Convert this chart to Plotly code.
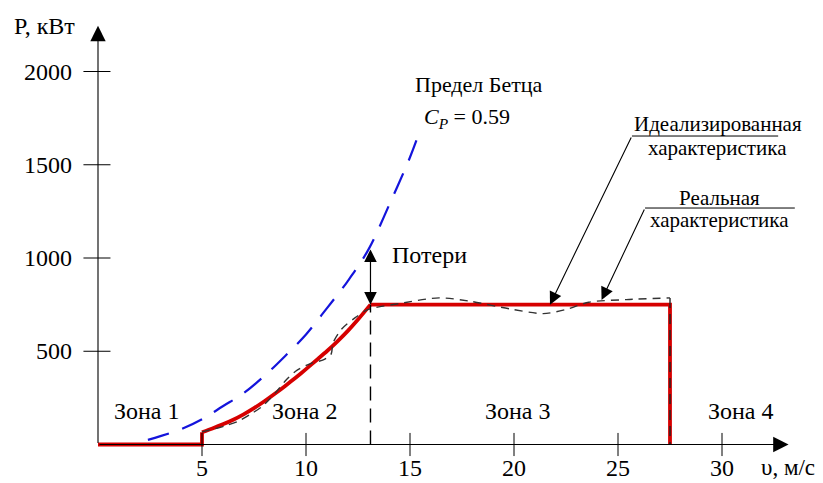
import plotly.graph_objects as go

# ---------------- data ----------------
x_ticks = [5, 10, 15, 20, 25, 30]
y_ticks = [500, 1000, 1500, 2000]

# Betz limit curve (Cp = 0.59)
betz_v = [2.4, 3.0, 4.0, 5.0, 6.0, 7.0, 8.0, 9.0, 10.0, 11.0, 12.0, 13.0, 14.0, 15.0, 15.5]
betz_p = [25, 45, 82, 135, 205, 275, 368, 475, 590, 730, 875, 1045, 1285, 1540, 1690]

# idealised characteristic
ideal_v = [0, 5.0, 5.0, 5.5, 6.0, 6.5, 7.0, 7.5, 8.0, 8.5, 9.0, 9.5, 10.0, 10.5, 11.0, 11.5, 12.0, 12.5, 13.1, 27.5, 27.5]
ideal_p = [0, 0, 66, 86, 108, 133, 162, 195, 232, 272, 314, 358, 404, 452, 500, 552, 608, 670, 750, 750, 0]

# real characteristic
real_v = [5.0, 5.6, 6.2, 6.75, 7.3, 7.9, 8.6, 9.0, 9.5, 10.3, 10.8, 11.2, 11.3, 11.7, 12.35, 13.0,
          14.5, 16.4, 17.9, 19.8, 21.4, 22.5, 23.6, 25.4, 27.5, 27.5]
real_p = [68, 84, 103, 125, 160, 205, 286, 340, 393, 438, 452, 483, 545, 617, 679, 724,
          756, 786, 768, 727, 702, 724, 763, 777, 786, 0]

rated_v = 13.1
rated_p = 750
betz_at_rated = 1054

zone_labels = ["Зона 1", "Зона 2", "Зона 3", "Зона 4"]
zone_v = [2.35, 9.95, 20.2, 30.9]
zone_p = 180

FONT = "Liberation Serif"
FS = 24

fig = go.Figure()

fig.add_trace(go.Scatter(x=betz_v, y=betz_p, mode="lines", line=dict(color="#1414dc", width=2.2, dash="22px,14px"),
                         line_shape="spline", hoverinfo="skip"))
# idealised: flat + step (linear), rising curve (spline), plateau + cut-out (linear)
fig.add_trace(go.Scatter(x=ideal_v[:3], y=ideal_p[:3], mode="lines", line=dict(color="#d60000", width=3.8),
                         hoverinfo="skip"))
fig.add_trace(go.Scatter(x=ideal_v[2:19], y=ideal_p[2:19], mode="lines", line=dict(color="#d60000", width=3.8),
                         line_shape="spline", line_smoothing=0.6, hoverinfo="skip"))
fig.add_trace(go.Scatter(x=ideal_v[18:], y=ideal_p[18:], mode="lines", line=dict(color="#d60000", width=3.8),
                         hoverinfo="skip"))
# real: curve (spline) and cut-out drop (linear)
fig.add_trace(go.Scatter(x=real_v[:-1], y=real_p[:-1], mode="lines", line=dict(color="#333333", width=1.4, dash="8px,6px"),
                         line_shape="spline", line_smoothing=0.8, hoverinfo="skip"))
fig.add_trace(go.Scatter(x=real_v[-2:], y=real_p[-2:], mode="lines", line=dict(color="#222222", width=1.4, dash="10px,6px"),
                         hoverinfo="skip"))
# vertical dashed line at rated speed
fig.add_trace(go.Scatter(x=[rated_v, rated_v], y=[0, rated_p], mode="lines",
                         line=dict(color="black", width=1.4, dash="14px,8px"), hoverinfo="skip"))

ann = []
shapes = []

# axes with arrows
ann.append(dict(x=33.2, y=0, ax=0, ay=0, axref="x", ayref="y", xref="x", yref="y", text="", showarrow=True,
                arrowhead=2, arrowsize=2.8, arrowwidth=1.1, arrowcolor="black", standoff=0))
ann.append(dict(x=0, y=2245, ax=0, ay=0, axref="x", ayref="y", xref="x", yref="y", text="", showarrow=True,
                arrowhead=2, arrowsize=2.8, arrowwidth=1.1, arrowcolor="black", standoff=0))

# ticks and labels
for t in x_ticks:
    shapes.append(dict(type="line", xref="x", yref="y", x0=t, x1=t, y0=-62, y1=62, line=dict(color="black", width=1)))
    ann.append(dict(x=t, y=-125, xref="x", yref="y", text=str(t), showarrow=False,
                    font=dict(family=FONT, size=FS, color="black")))
for t in y_ticks:
    shapes.append(dict(type="line", xref="x", yref="y", x0=-0.7, x1=0.6, y0=t, y1=t, line=dict(color="black", width=1)))
    ann.append(dict(x=-1.15, y=t, xref="x", yref="y", text=str(t), showarrow=False, xanchor="right",
                    font=dict(family=FONT, size=FS, color="black")))

ann.append(dict(x=-2.55, y=2245, xref="x", yref="y", text="P, кВт", showarrow=False,
                font=dict(family=FONT, size=FS, color="black")))
ann.append(dict(x=33.15, y=-122, xref="x", yref="y", text="υ, м/с", showarrow=False,
                font=dict(family=FONT, size=FS - 1, color="black")))

for lab, v in zip(zone_labels, zone_v):
    ann.append(dict(x=v, y=zone_p, xref="x", yref="y", text=lab, showarrow=False,
                    font=dict(family=FONT, size=FS, color="black")))

# Betz label
ann.append(dict(x=18.3, y=1930, xref="x", yref="y", text="Предел Бетца", showarrow=False,
                font=dict(family=FONT, size=FS - 2, color="black")))
ann.append(dict(x=17.75, y=1752, xref="x", yref="y", text="<i>C</i><sub><i>P</i></sub> = 0.59", showarrow=False,
                font=dict(family=FONT, size=FS - 2, color="black")))

# losses double arrow
ann.append(dict(x=rated_v, y=rated_p, ax=rated_v, ay=betz_at_rated, axref="x", ayref="y", xref="x", yref="y",
                text="", showarrow=True, arrowhead=2, arrowside="end+start", arrowsize=2.1, arrowwidth=1.2,
                arrowcolor="black", standoff=0, startstandoff=0))
ann.append(dict(x=15.95, y=1016, xref="x", yref="y", text="Потери", showarrow=False,
                font=dict(family=FONT, size=FS, color="black")))

# idealised label with leader
ann.append(dict(x=21.73, y=rated_p, ax=25.67, ay=1654, axref="x", ayref="y", xref="x", yref="y",
                text="", showarrow=True, arrowhead=2, arrowsize=2.3, arrowwidth=1.1, arrowcolor="black", standoff=0))
shapes.append(dict(type="line", xref="x", yref="y", x0=25.67, x1=32.7, y0=1654, y1=1654,
                   line=dict(color="black", width=1)))
ann.append(dict(x=29.8, y=1719, xref="x", yref="y", text="Идеализированная", showarrow=False,
                font=dict(family=FONT, size=FS - 3, color="black")))
ann.append(dict(x=29.8, y=1592, xref="x", yref="y", text="характеристика", showarrow=False,
                font=dict(family=FONT, size=FS - 3, color="black")))

# real label with leader
ann.append(dict(x=24.21, y=775, ax=26.3, ay=1268, axref="x", ayref="y", xref="x", yref="y",
                text="", showarrow=True, arrowhead=2, arrowsize=2.3, arrowwidth=1.1, arrowcolor="black", standoff=0))
shapes.append(dict(type="line", xref="x", yref="y", x0=26.3, x1=33.5, y0=1268, y1=1268,
                   line=dict(color="black", width=1)))
ann.append(dict(x=29.9, y=1322, xref="x", yref="y", text="Реальная", showarrow=False,
                font=dict(family=FONT, size=FS - 3, color="black")))
ann.append(dict(x=29.9, y=1204, xref="x", yref="y", text="характеристика", showarrow=False,
                font=dict(family=FONT, size=FS - 3, color="black")))

px_per_v = 20.8
px_per_p = 0.1865
x0 = -98 / px_per_v
x1 = x0 + 823 / px_per_v
y1 = 444.5 / px_per_p
y0 = (444.5 - 483) / px_per_p

fig.update_layout(
    width=823, height=483, autosize=False,
    margin=dict(l=0, r=0, t=0, b=0),
    paper_bgcolor="white", plot_bgcolor="white",
    showlegend=False,
    xaxis=dict(range=[x0, x1], visible=False, fixedrange=True),
    yaxis=dict(range=[y0, y1], visible=False, fixedrange=True),
    annotations=ann, shapes=shapes,
)

fig.write_html("out.html")
